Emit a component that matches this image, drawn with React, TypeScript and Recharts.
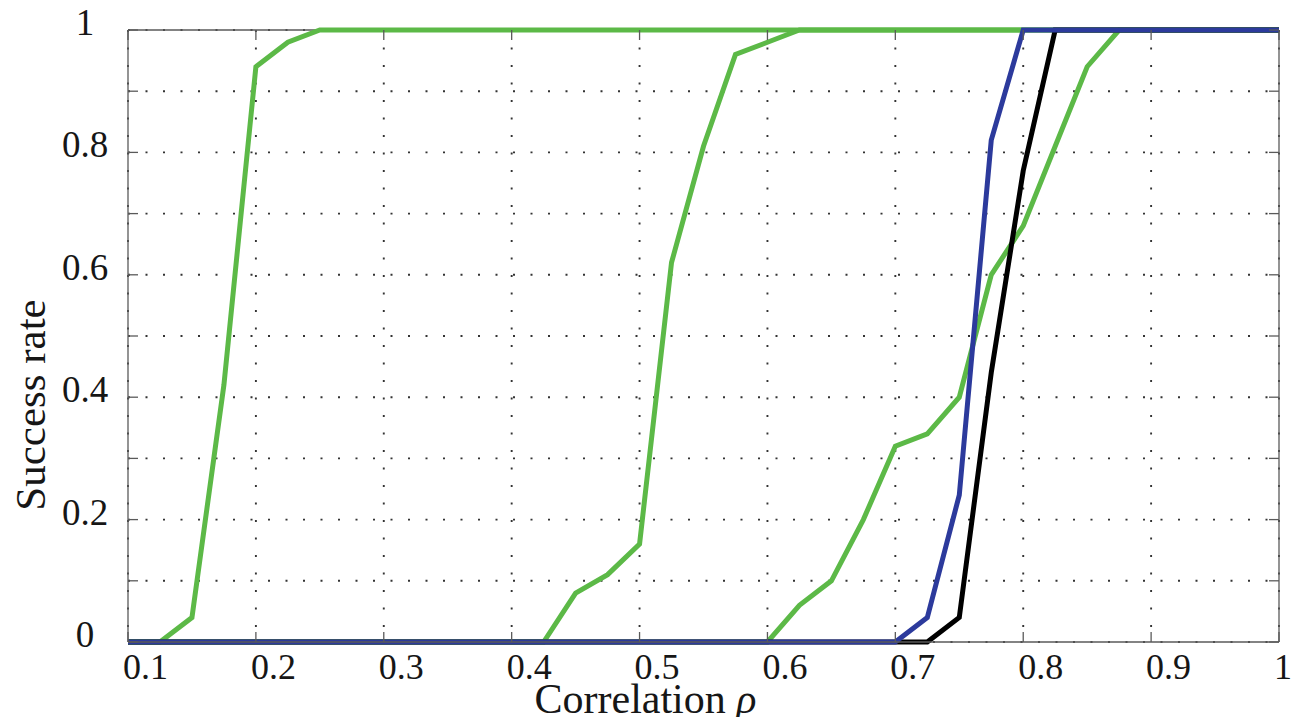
import React from 'react';
import { LineChart, Line, XAxis, YAxis, CartesianGrid, ReferenceLine } from 'recharts';

// Correlation values at which the success rate was measured
const rho = [
  0.1, 0.125, 0.15, 0.175, 0.2, 0.225, 0.25, 0.275, 0.3, 0.325, 0.35, 0.375,
  0.4, 0.425, 0.45, 0.475, 0.5, 0.525, 0.55, 0.575, 0.6, 0.625, 0.65, 0.675,
  0.7, 0.725, 0.75, 0.775, 0.8, 0.825, 0.85, 0.875, 0.9, 0.925, 0.95, 0.975, 1.0,
];

// Success rate per method
const greenLow = [
  0, 0, 0.04, 0.42, 0.94, 0.98, 1, 1, 1, 1, 1, 1,
  1, 1, 1, 1, 1, 1, 1, 1, 1, 1, 1, 1,
  1, 1, 1, 1, 1, 1, 1, 1, 1, 1, 1, 1, 1,
];
const greenMid = [
  0, 0, 0, 0, 0, 0, 0, 0, 0, 0, 0, 0,
  0, 0, 0.08, 0.11, 0.16, 0.62, 0.81, 0.96, 0.98, 1, 1, 1,
  1, 1, 1, 1, 1, 1, 1, 1, 1, 1, 1, 1, 1,
];
const greenHigh = [
  0, 0, 0, 0, 0, 0, 0, 0, 0, 0, 0, 0,
  0, 0, 0, 0, 0, 0, 0, 0, 0, 0.06, 0.1, 0.2,
  0.32, 0.34, 0.4, 0.6, 0.68, 0.81, 0.94, 1, 1, 1, 1, 1, 1,
];
const blackRate = [
  0, 0, 0, 0, 0, 0, 0, 0, 0, 0, 0, 0,
  0, 0, 0, 0, 0, 0, 0, 0, 0, 0, 0, 0,
  0, 0, 0.04, 0.44, 0.77, 1, 1, 1, 1, 1, 1, 1, 1,
];
const blueRate = [
  0, 0, 0, 0, 0, 0, 0, 0, 0, 0, 0, 0,
  0, 0, 0, 0, 0, 0, 0, 0, 0, 0, 0, 0,
  0, 0.04, 0.24, 0.82, 1, 1, 1, 1, 1, 1, 1, 1, 1,
];

// Axis ticks and their labels
const xTicks = [0.1, 0.2, 0.3, 0.4, 0.5, 0.6, 0.7, 0.8, 0.9, 1.0];
const xTickLabels = ['0.1', '0.2', '0.3', '0.4', '0.5', '0.6', '0.7', '0.8', '0.9', '1'];
const yTicks = [0, 0.1, 0.2, 0.3, 0.4, 0.5, 0.6, 0.7, 0.8, 0.9, 1.0];
const yTickLabels = ['0', '', '0.2', '', '0.4', '', '0.6', '', '0.8', '', '1'];

const data = rho.map((r, i) => ({
  rho: r,
  gA: greenLow[i],
  gB: greenMid[i],
  gC: greenHigh[i],
  bk: blackRate[i],
  bl: blueRate[i],
}));

// Layout
const W = 1300;
const H = 717;
const MARGIN = { top: 22, right: 29, bottom: 0, left: 0 };
const Y_AXIS_W = 120;
const X_AXIS_H = 83;
const PLOT_W = W - MARGIN.left - MARGIN.right - Y_AXIS_W;
const PLOT_H = H - MARGIN.top - MARGIN.bottom - X_AXIS_H;
const TICK_LEN = 10;

const FONT = '"Liberation Serif", "DejaVu Serif", serif';
const TEXT_COLOR = '#161616';
const AXIS_COLOR = '#5a5a5a';
const GREEN = '#5cb947';
const BLUE = '#2c3a9c';
const BLACK = '#000000';

// Bottom axis tick: inward tick at bottom and top of the box plus label
const XTick = (props: any) => {
  const { x, y, index } = props;
  return (
    <g>
      <line x1={x} x2={x} y1={y} y2={y - TICK_LEN} stroke={AXIS_COLOR} strokeWidth={1.3} />
      <line x1={x} x2={x} y1={y - PLOT_H} y2={y - PLOT_H + TICK_LEN} stroke={AXIS_COLOR} strokeWidth={1.3} />
      <text x={x - 5} y={y + 37} textAnchor="start" fontFamily={FONT} fontSize={36} fill={TEXT_COLOR}>
        {xTickLabels[index]}
      </text>
    </g>
  );
};

// Left axis tick: inward tick at left and right of the box plus label
const YTick = (props: any) => {
  const { x, y, index } = props;
  const label = yTickLabels[index];
  return (
    <g>
      <line x1={x} x2={x + TICK_LEN} y1={y} y2={y} stroke={AXIS_COLOR} strokeWidth={1.3} />
      <line x1={x + PLOT_W} x2={x + PLOT_W - TICK_LEN} y1={y} y2={y} stroke={AXIS_COLOR} strokeWidth={1.3} />
      {label ? (
        <text x={x - 43} y={y + 5} textAnchor="middle" fontFamily={FONT} fontSize={37} fill={TEXT_COLOR}>
          {label}
        </text>
      ) : null}
    </g>
  );
};

const XTitle = (props: any) => {
  const vb = props.viewBox || {};
  const cx = vb.x + vb.width / 2 - 58;
  const cy = vb.y + 71;
  return (
    <text x={cx} y={cy} textAnchor="middle" fontFamily={FONT} fontSize={42} fill={TEXT_COLOR}>
      <tspan>Correlation </tspan>
      <tspan fontStyle="italic">ρ</tspan>
    </text>
  );
};

const YTitle = (props: any) => {
  const vb = props.viewBox || {};
  const cx = vb.x + 22;
  const cy = vb.y + vb.height / 2 + 69;
  return (
    <text
      x={cx}
      y={cy}
      transform={`rotate(-90 ${cx} ${cy})`}
      textAnchor="middle"
      dominantBaseline="central"
      fontFamily={FONT}
      fontSize={43}
      fill={TEXT_COLOR}
    >
      Success rate
    </text>
  );
};

export default function App() {
  return (
    <div style={{ width: W, height: H, marginBottom: -8, background: '#fff' }}>
      <LineChart width={W} height={H} data={data} margin={MARGIN} style={{ overflow: 'visible' }}>
        <CartesianGrid stroke="#333333" strokeWidth={1.9} strokeDasharray="2 15.5" />
        <ReferenceLine y={1} stroke={AXIS_COLOR} strokeWidth={1.3} />
        <ReferenceLine x={1} stroke={AXIS_COLOR} strokeWidth={1.3} />
        <XAxis
          type="number"
          dataKey="rho"
          domain={[0.1, 1]}
          ticks={xTicks}
          interval={0}
          height={X_AXIS_H}
          tickSize={0}
          tickMargin={0}
          tickLine={false}
          axisLine={{ stroke: AXIS_COLOR, strokeWidth: 1.3 }}
          tick={<XTick />}
          label={<XTitle />}
        />
        <YAxis
          type="number"
          domain={[0, 1]}
          ticks={yTicks}
          interval={0}
          width={Y_AXIS_W}
          tickSize={0}
          tickMargin={0}
          tickLine={false}
          axisLine={{ stroke: AXIS_COLOR, strokeWidth: 1.3 }}
          tick={<YTick />}
          label={<YTitle />}
        />
        <Line type="linear" dataKey="gA" stroke={GREEN} strokeWidth={5} dot={false} activeDot={false} isAnimationActive={false} />
        <Line type="linear" dataKey="gB" stroke={GREEN} strokeWidth={5} dot={false} activeDot={false} isAnimationActive={false} />
        <Line type="linear" dataKey="gC" stroke={GREEN} strokeWidth={5} dot={false} activeDot={false} isAnimationActive={false} />
        <Line type="linear" dataKey="bk" stroke={BLACK} strokeWidth={5} dot={false} activeDot={false} isAnimationActive={false} />
        <Line type="linear" dataKey="bl" stroke={BLUE} strokeWidth={5} dot={false} activeDot={false} isAnimationActive={false} />
      </LineChart>
    </div>
  );
}
